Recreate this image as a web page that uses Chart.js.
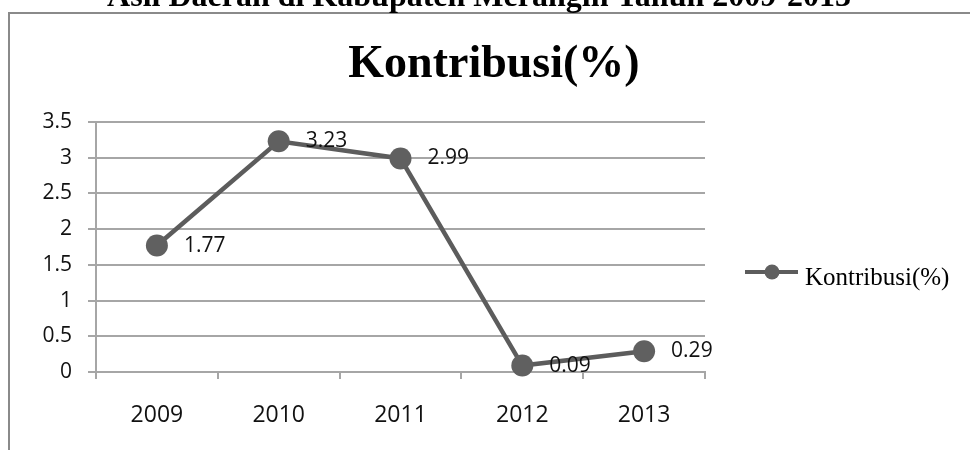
<!DOCTYPE html>
<html>
<head>
<meta charset="utf-8">
<title>Kontribusi(%)</title>
<script src="https://cdn.jsdelivr.net/npm/chart.js@4.4.1/dist/chart.umd.min.js"></script>
<style>
  html, body { margin: 0; padding: 0; background: #fff; }
  #wrap { width: 970px; height: 450px; }
</style>
</head>
<body>
<div id="wrap"><canvas id="kontribusiChart" width="970" height="450"></canvas></div>
<script>
// data grafik
const judulAtas = 'Asli Daerah di Kabupaten Merangin Tahun 2009-2013';
const judulGrafik = 'Kontribusi(%)';
const namaSeri = 'Kontribusi(%)';
const tahun = ['2009', '2010', '2011', '2012', '2013'];
const kontribusi = [1.77, 3.23, 2.99, 0.09, 0.29];
const labelNilai = ['1.77', '3.23', '2.99', '0.09', '0.29'];
const yTicks = [0, 0.5, 1, 1.5, 2, 2.5, 3, 3.5];

const warnaGaris = '#5c5c5c';
const warnaGrid = '#a6a6a6';
const fontSans = "'Open Sans', sans-serif";
const fontSerif = "'Liberation Serif', 'Times New Roman', serif";

document.addEventListener('DOMContentLoaded', function() {
    buatGrafik();
});

// bingkai, judul terpotong di atas, judul grafik
const bingkaiPlugin = {
    id: 'bingkai',
    beforeDraw(chart) {
        const ctx = chart.ctx;
        ctx.save();
        ctx.fillStyle = '#ffffff';
        ctx.fillRect(0, 0, chart.width, chart.height);

        ctx.strokeStyle = '#8a8a8a';
        ctx.lineWidth = 2;
        ctx.strokeRect(9, 13, chart.width + 20, chart.height + 20);

        ctx.fillStyle = '#000000';
        ctx.textAlign = 'center';
        ctx.textBaseline = 'alphabetic';
        ctx.font = 'bold 32px ' + fontSerif;
        ctx.fillText(judulAtas, 479, 6);

        ctx.font = 'bold 46px ' + fontSerif;
        ctx.fillText(judulGrafik, 494, 77);
        ctx.restore();
    }
};

// label nilai di kanan titik
const labelPlugin = {
    id: 'labelNilai',
    afterDatasetsDraw(chart) {
        const ctx = chart.ctx;
        const meta = chart.getDatasetMeta(0);
        ctx.save();
        ctx.fillStyle = '#111111';
        ctx.font = '21px ' + fontSans;
        ctx.textAlign = 'left';
        ctx.textBaseline = 'middle';
        meta.data.forEach((pt, i) => {
            ctx.fillText(labelNilai[i], pt.x + 27, pt.y);
        });
        ctx.restore();
    }
};

// legenda di kanan
const legendaPlugin = {
    id: 'legenda',
    afterDraw(chart) {
        const ctx = chart.ctx;
        const ds = chart.data.datasets[0];
        ctx.save();
        ctx.strokeStyle = ds.borderColor;
        ctx.lineWidth = 4;
        ctx.beginPath();
        ctx.moveTo(745, 272);
        ctx.lineTo(798, 272);
        ctx.stroke();
        ctx.fillStyle = ds.pointBackgroundColor;
        ctx.beginPath();
        ctx.arc(772, 272, 7.5, 0, Math.PI * 2);
        ctx.fill();

        ctx.fillStyle = '#000000';
        ctx.font = '25px ' + fontSerif;
        ctx.textAlign = 'left';
        ctx.textBaseline = 'alphabetic';
        ctx.fillText(ds.label, 805, 285);
        ctx.restore();
    }
};

function buatGrafik() {
    const ctx = document.getElementById('kontribusiChart').getContext('2d');
    window.kontribusiChart = new Chart(ctx, {
        type: 'line',
        data: {
            labels: tahun,
            datasets: [{
                label: namaSeri,
                data: kontribusi,
                borderColor: warnaGaris,
                borderWidth: 4.5,
                pointBackgroundColor: '#606060',
                pointBorderColor: '#606060',
                pointRadius: 11,
                pointBorderWidth: 0,
                tension: 0,
                fill: false,
                clip: false
            }]
        },
        options: {
            responsive: false,
            animation: false,
            devicePixelRatio: 1,
            layout: {
                padding: { top: 122, left: 10, right: 265, bottom: 0 }
            },
            plugins: {
                legend: { display: false },
                title: { display: false },
                tooltip: { enabled: false }
            },
            scales: {
                x: {
                    offset: true,
                    afterFit: function(scale) { scale.height = 78; },
                    grid: {
                        offset: true,
                        drawOnChartArea: false,
                        drawTicks: true,
                        tickLength: 7,
                        color: warnaGrid,
                        lineWidth: 2
                    },
                    border: { display: true, color: warnaGrid, width: 2 },
                    ticks: {
                        color: '#111111',
                        padding: 23,
                        maxRotation: 0,
                        font: { family: fontSans, size: 23 }
                    }
                },
                y: {
                    min: 0,
                    max: 3.5,
                    afterFit: function(scale) { scale.width = 86; },
                    afterBuildTicks: function(scale) {
                        scale.ticks = yTicks.map(v => ({ value: v }));
                    },
                    grid: {
                        drawTicks: true,
                        tickLength: 8,
                        color: warnaGrid,
                        lineWidth: 2
                    },
                    border: { display: true, color: warnaGrid, width: 2 },
                    ticks: {
                        color: '#111111',
                        padding: 16,
                        font: { family: fontSans, size: 21 },
                        callback: function(value) { return String(value); }
                    }
                }
            }
        },
        plugins: [bingkaiPlugin, labelPlugin, legendaPlugin]
    });
}
</script>
</body>
</html>
